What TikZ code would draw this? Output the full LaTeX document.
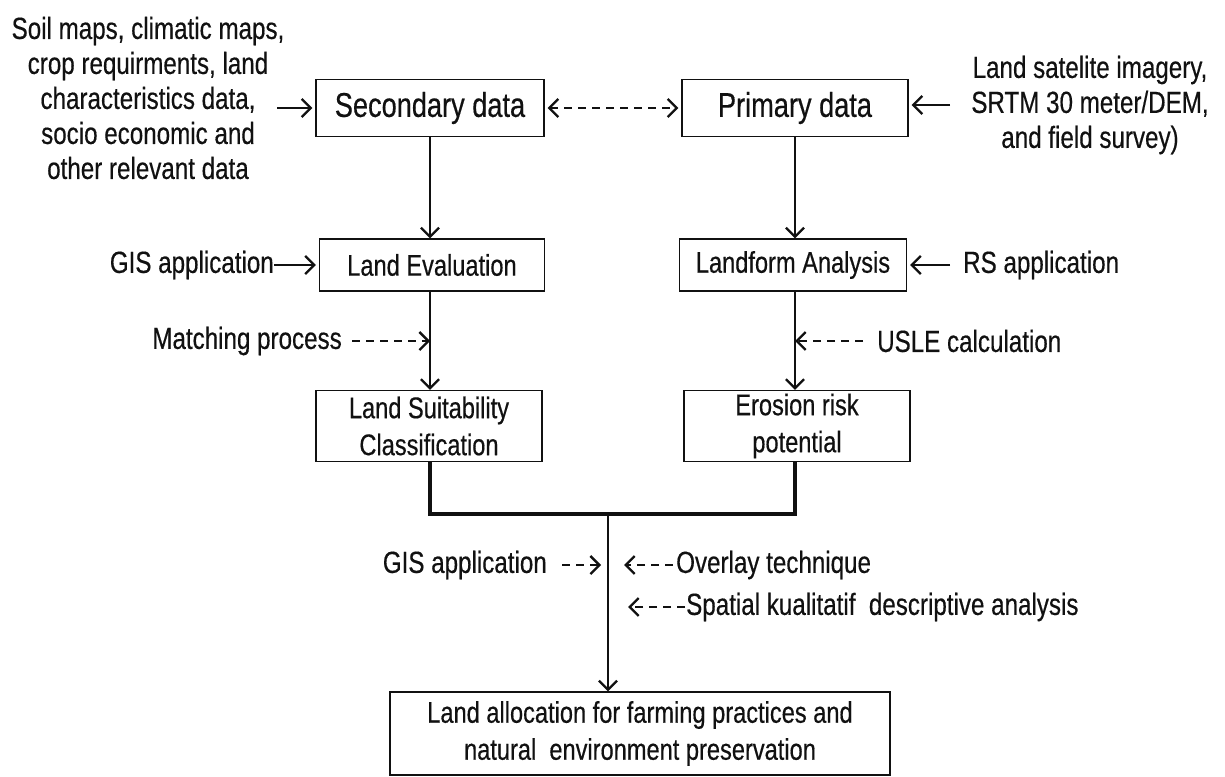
\documentclass[tikz,border=0pt]{standalone}
\usepackage{fontspec}
\setmainfont{Liberation Sans}[FakeStretch=0.79,FakeBold=0.4]
\usepackage{tikz}
\usetikzlibrary{positioning,calc,arrows.meta}
\definecolor{ink}{HTML}{111111}
\tikzset{
  box/.style      = {draw=ink, line width=1.3pt, fill=white, align=center, inner sep=0pt},
  boxbig/.style   = {box, font=\fontsize{34.4}{38}\selectfont\color{ink}},
  boxtxt/.style   = {box, font=\fontsize{29.9}{37}\selectfont\color{ink}},
  side/.style     = {font=\fontsize{30.6}{35}\selectfont\color{ink}, align=center, inner sep=0pt},
  barb/.tip       = {Straight Barb[length=9pt,width=18pt]},
  flow/.style     = {-barb, draw=ink, line width=2.3pt},
  flowdash/.style = {flow, dash pattern=on 8pt off 6pt},
  joinline/.style = {draw=ink, line width=3.2pt},
}

\begin{document}
\begin{tikzpicture}[x=1pt,y=-1pt]
\path[use as bounding box, fill=white] (0,0) rectangle (1225,776);

% ---- data sources ------------------------------------------------------
\node[boxbig, minimum width=228pt, minimum height=57pt] (sec) at (430,108) {Secondary data};
\node[boxbig, minimum width=226pt, minimum height=57pt] (pri) at (795,108) {Primary data};

\node[side] (srcl) at (148,98)
  {Soil maps, climatic maps,\\ crop requirments, land\\ characteristics data,\\ socio economic and\\ other relevant data};
\node[side] (srcr) at (1090,105)
  {Land satelite imagery,\\ SRTM 30 meter/DEM,\\ and field survey)};
\coordinate (insec) at (277,108);
\coordinate (inpri) at (950,105);

\draw[flow, shorten >=3pt] (insec) -- (insec -| sec.west);
\draw[flow, shorten >=3pt] (inpri) -- (inpri -| pri.east);
\draw[flowdash, barb-barb, shorten <=3pt, shorten >=3pt] (sec.east) -- (pri.west);

% ---- analysis ----------------------------------------------------------
\node[boxtxt, minimum width=225pt, minimum height=52pt] (eval) at (432,265) {Land Evaluation};
\node[boxtxt, minimum width=227pt, minimum height=52pt] (form) at (793,265) {Landform Analysis};

\draw[flow] (sec.south) -- (sec.south |- eval.north);
\draw[flow] (pri.south) -- (pri.south |- form.north);

\node[side, anchor=east] (gisa) at (274,265) {GIS application};
\node[side, anchor=west] (rsa)  at (963,265) {RS application};
\draw[flow, shorten >=3pt] (gisa.east) -- (gisa.east -| eval.west);
\coordinate (inform) at (950,265);
\draw[flow, shorten >=3pt] (inform) -- (inform -| form.east);

% ---- classification ----------------------------------------------------
\node[boxtxt, minimum width=226pt, minimum height=71pt] (suit) at (429,426) {Land Suitability\\ Classification};
\node[boxtxt, minimum width=226pt, minimum height=71pt] (eros) at (797,426) {Erosion risk\\ potential};

\draw[flow] (sec.south |- eval.south) -- (sec.south |- suit.north);
\draw[flow] (pri.south |- form.south) -- (pri.south |- eros.north);

\node[side, anchor=east] (match) at (342,341) {Matching process};
\node[side, anchor=west] (usle)  at (877,341) {USLE calculation};
\draw[flowdash] (match.east) ++(10,0) coordinate (mt) -- (mt -| sec.south);
\draw[flowdash] (usle.west) ++(-14,0) coordinate (ut) -- (ut -| pri.south);

% ---- overlay -----------------------------------------------------------
\coordinate (mid) at (608,514);
\draw[joinline] (suit.south -| sec.south) |- (mid) -| (eros.south -| pri.south);

\node[box, font=\fontsize{29.9}{37}\selectfont\color{ink}, minimum width=500pt, minimum height=83pt] (alloc) at (640,733.5)
  {Land allocation for farming practices and\\ natural\ \ environment preservation};
\draw[flow] (mid) -- (mid |- alloc.north);

\node[side, anchor=east] (gisb)  at (547,565) {GIS application};
\node[side, anchor=west] (over)  at (676,565) {Overlay technique};
\node[side, anchor=west] (spat)  at (686,607) {Spatial kualitatif\ \ descriptive analysis};
\draw[flowdash, shorten >=7pt] (gisb.east) ++(15,0) coordinate (gt) -- (gt -| mid);
\draw[flowdash, shorten >=16pt] (over.west) ++(-3,0) coordinate (ot) -- (ot -| mid);
\draw[flowdash, shorten >=20pt] (spat.west) ++(-1,0) coordinate (st) -- (st -| mid);

\end{tikzpicture}
\end{document}
